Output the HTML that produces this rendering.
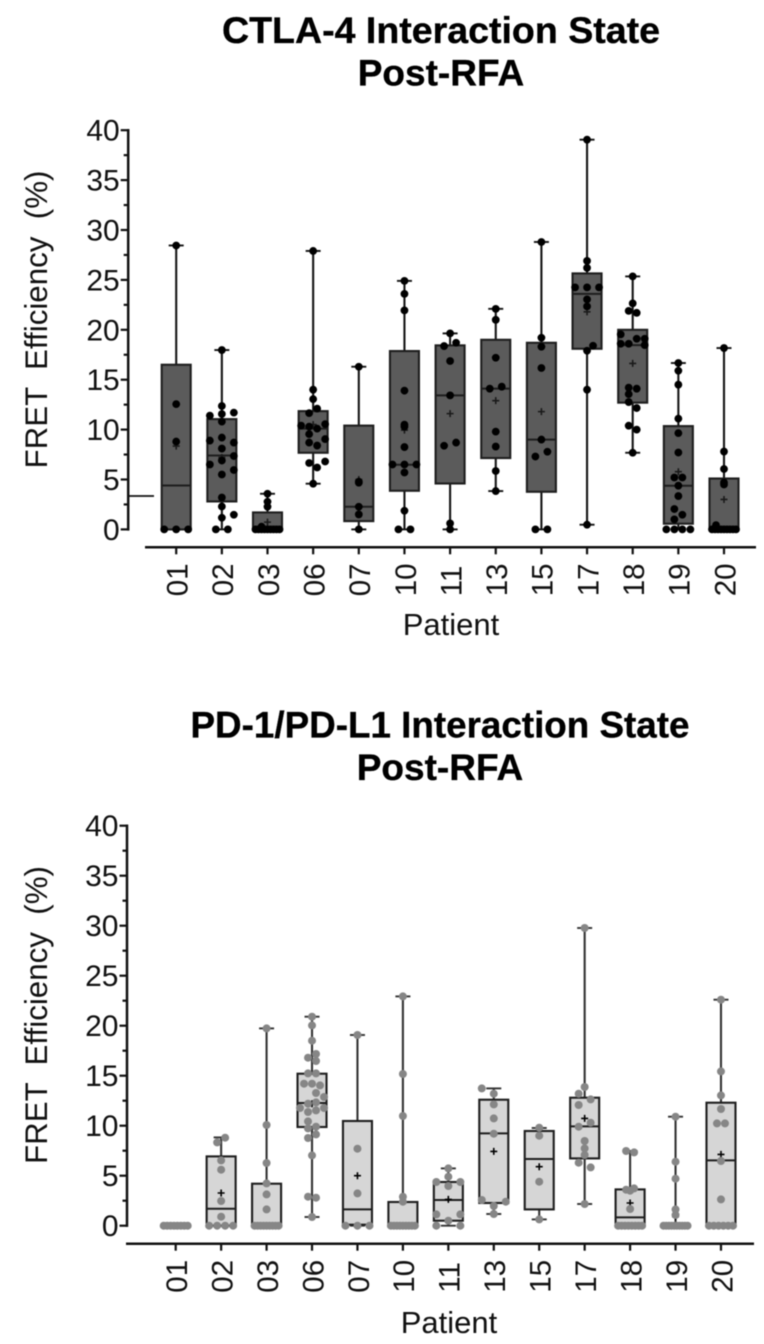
<!DOCTYPE html>
<html lang="en">
<head>
<meta charset="utf-8">
<title>FRET Efficiency Post-RFA</title>
<style>
  html, body { margin: 0; padding: 0; background: #fff; }
  svg { display: block; filter: blur(0.4px); font-family: "Liberation Sans", Arial, sans-serif; }
</style>
</head>
<body>
<svg id="figure" xmlns="http://www.w3.org/2000/svg" width="764" height="1344" viewBox="0 0 764 1344">
  <rect width="764" height="1344" fill="#fff"/>
  <g id="chart-top">
    <text x="441" y="43" font-size="37" font-weight="700" text-anchor="middle" textLength="438" lengthAdjust="spacingAndGlyphs" stroke="#000" stroke-width="0.35">CTLA-4 Interaction State</text>
    <text x="441" y="85.5" font-size="37" font-weight="700" text-anchor="middle" stroke="#000" stroke-width="0.35">Post-RFA</text>
    <text transform="translate(47 319.5) rotate(-90)" font-size="31.3" text-anchor="middle" xml:space="preserve" fill="#111">FRET  Efficiency  (%)</text>
    <text x="451" y="635" font-size="31" text-anchor="middle" fill="#111">Patient</text>
    <line x1="128" x2="154" y1="496" y2="496" stroke="#111" stroke-width="1.8"/>
  </g>
  <g id="chart-bottom">
    <text x="440" y="737.5" font-size="37" font-weight="700" text-anchor="middle" textLength="499" lengthAdjust="spacingAndGlyphs" stroke="#000" stroke-width="0.35">PD-1/PD-L1 Interaction State</text>
    <text x="440" y="780" font-size="37" font-weight="700" text-anchor="middle" stroke="#000" stroke-width="0.35">Post-RFA</text>
    <text transform="translate(47 1015) rotate(-90)" font-size="31.3" text-anchor="middle" xml:space="preserve" fill="#111">FRET  Efficiency  (%)</text>
    <text x="449" y="1333" font-size="31" text-anchor="middle" fill="#111">Patient</text>
  </g>
</svg>
<script>
// Shared categories and axis ticks
const patients = ["01","02","03","06","07","10","11","13","15","17","18","19","20"];
const yTickLabels = [0,5,10,15,20,25,30,35,40];
const yMinorTicks = [2.5,7.5,12.5,17.5,22.5,27.5,32.5,37.5];

// CTLA-4 box statistics (FRET %)
const ctlaWhiskerLow  = [0,0,0,4.58,0,0,0,3.84,0,0.47,7.68,0,0];
const ctlaQ1          = [0,2.8,0,7.68,0.83,3.87,4.6,7.15,3.77,18.1,12.7,0.57,0];
const ctlaMedian      = [4.4,7.4,0.2,10.1,2.27,6.48,13.43,14.1,9.0,23.6,18.47,4.38,0];
const ctlaQ3          = [16.5,11.05,1.7,11.85,10.4,17.87,18.44,19.0,18.7,25.65,20.0,10.35,5.1];
const ctlaWhiskerHigh = [28.45,17.97,3.57,27.9,16.3,24.9,19.64,22.1,28.8,39.05,25.35,16.67,18.17];
const ctlaMean        = [8.35,7.2,0.73,10.5,5.0,9.95,11.6,12.9,11.8,21.8,16.63,5.78,3.0];
// CTLA-4 measurements, grouped per patient into swarm rows (null = empty place in a row)
const ctlaPoints = [
  [[28.45],[12.55],[8.8],[0,0,0]],
  [[17.97],[12.36],[11.4,11.56,11.7],[10.8],[8.9,9.2,8.7],[8.1],[6.5,6.9,7.35],[null,5.5,5.95],[3.2],[2.3],[null,1.17,1.47],[0,0]],
  [[3.57],[2.77],[2.27],[null,0.27,null,null,null],[0,0,0,0,0,0,0,0,0]],
  [[27.9],[14.0],[13.05],[null,11.65,12.1,null],[10.4,10.3,10.1,10.55],[null,9.55,null,null],[null,8.7,8.4,9.05],[null,6.65,6.2,6.8],[4.58]],
  [[16.3],[4.78],[4.68],[2.27],[1.5],[0]],
  [[24.9],[23.6],[21.95],[13.9],[10.5],[10.3],[8.25],[6.5,6.5,6.5],[5.7],[1.87],[0,0]],
  [[19.64],[18.37,18.7],[16.87],[13.43],[8.38,8.7],[0.6],[0]],
  [[22.1],[21.0],[17.2],[14.1,14.3],[9.8],[8.3],[5.85],[3.84]],
  [[28.8],[19.2],[18.3],[16.17],[9.0],[7.3,7.78],[0,0]],
  [[39.05],[26.9],[26.2],[24.25,24.25,24.25],[23.05],[22.35],[null,18.4],[17.9],[14.0],[0.47]],
  [[25.35],[22.65],[null,21.9,21.7,null],[19.54,null,19.1,19.1],[18.6,18.6,null,18.47],[null,14.2,14.1,null],[null,13.56,null,null],[null,12.76,null,null],[null,null,12.16,null],[null,10.39,10.0,null],[7.68]],
  [[16.67],[15.9],[14.5],[11.1],[9.65],[7.7],[null,5.2,5.2,null],[4.38],[3.34],[null,2.04,null,null],[null,null,1.47,null],[null,1.0,null,null],[0,0,0,0]],
  [[18.17],[7.8],[6.05],[4.7],[4.5],[null,0.43,null,null,null,null,null],[0,0,0,0,0,0,0,0,0]]
];

// PD-1/PD-L1 box statistics (FRET %)
const pdWhiskerLow  = [0,0,0,0.87,0,0,0,1.17,0.63,2.17,0,0,0];
const pdQ1          = [0,0,0,9.87,0.1,0,0.5,2.27,1.63,6.73,0.2,0,0];
const pdMedian      = [0,1.7,0,12.27,1.63,0,2.57,9.23,6.67,9.93,0.83,0,6.53];
const pdQ3          = [0,6.93,4.2,15.2,10.47,2.37,4.37,12.6,9.47,12.8,3.63,0,12.3];
const pdWhiskerHigh = [0,8.83,19.73,20.9,19.07,22.93,5.73,13.73,9.77,29.77,7.47,10.9,22.6];
const pdMean        = [0,3.27,1.63,12.2,5.0,2.4,2.63,7.43,5.9,10.73,2.27,0.9,7.13];
// PD-1/PD-L1 measurements, grouped per patient into swarm rows (null = empty place in a row)
const pdPoints = [
  [[0,0,0,0,0,0,0,0]],
  [[null,8.33,8.8,null],[6.53],[5.6],[2.47],[0.9],[0,0,0,0]],
  [[19.73],[10.07],[6.27],[4.23],[3.13],[1.63],[0,0,0,0,0,0,0,0,0]],
  [[20.9],[20.03],[18.5],[null,null,17.17,null],[null,16.8,null,null],[null,null,16.47,null],[null,15.23,15.23,null],[null,14.2,null,14.2,null,14.03,null],[null,null,13.27,null],[null,null,null,12.87],[null,12.2,12.33,null],[11.77,null,null,11.77],[null,11.37,11.53,null],[null,10.43,null,null],[null,9.73,9.9,null],[null,null,9.13,null],[null,8.77,null,null],[7.03],[null,2.9,2.8,null],[0.87]],
  [[19.07],[7.7],[3.23],[0,0,0]],
  [[22.93],[15.17],[10.97],[2.9],[2.4],[0,0,0,0,0,0,0,0,0]],
  [[5.73],[4.9],[4.37,null,4.37],[3.97],[1.13,null,1.13],[0.5],[0,null,0]],
  [[13.73,null,null],[13.2],[12.13],[10.73],[9.2],[2.57,null,2.4],[1.97],[1.17]],
  [[9.8],[9.0],[4.4],[0.63]],
  [[29.77],[13.87],[13.2,12.63],[12.07,null],[null,10.3],[9.9,null],[8.47],[7.73],[7.07],[6.3,5.83],[2.17]],
  [[null,7.47,7.33,null],[null,null,3.6,3.5,3.73,null,null],[1.67],[0,0,0,0,0,0,0,0]],
  [[10.9],[6.4],[4.7],[1.63],[1.07],[0,0,0,0,0,0,0,0,0,0]],
  [[22.6],[15.43],[13.03],[11.67],[null,10.23,10.23,null],[6.47],[2.63],[0,0,0,0,0,0]]
];

const SVG_NS = "http://www.w3.org/2000/svg";

function makeEl(tag, attrs, parent) {
  const node = document.createElementNS(SVG_NS, tag);
  for (const key in attrs) node.setAttribute(key, attrs[key]);
  parent.appendChild(node);
  return node;
}

function drawChart(cfg) {
  const root = document.getElementById(cfg.rootId);
  const xScale = function (i) { return cfg.xStart + cfg.xStep * i; };
  const yScale = function (v) { return cfg.yZero - cfg.yUnit * v; };

  // Y axis
  const yTop = yScale(40);
  const yAxis = makeEl("line", {x1: cfg.axisX, x2: cfg.axisX, y1: yTop - 1.2, y2: yScale(0) + 1.2, stroke: "#111", "stroke-width": 2.5}, root);
  
  
  yTickLabels.forEach(function (t) {
    const tick = makeEl("line", {x1: cfg.axisX - 7.5, x2: cfg.axisX, y1: yScale(t), y2: yScale(t), stroke: "#111", "stroke-width": 2.2}, root);
    
    
    const label = makeEl("text", {x: cfg.axisX - 8.5, y: yScale(t) + 10.5, "font-size": 30, "text-anchor": "end", fill: "#111"}, root);
    label.textContent = t;
    
    
  });
  yMinorTicks.forEach(function (t) {
    const tick = makeEl("line", {x1: cfg.axisX - 4.5, x2: cfg.axisX, y1: yScale(t), y2: yScale(t), stroke: "#111", "stroke-width": 2.2}, root);
    
    
  });

  // X axis
  const xAxis = makeEl("line", {x1: cfg.xAxisFrom, x2: cfg.xAxisTo, y1: cfg.xAxisY, y2: cfg.xAxisY, stroke: "#111", "stroke-width": 2.5}, root);
  
  

  patients.forEach(function (name, i) {
    const cx = xScale(i);

    const tick = makeEl("line", {x1: cx, x2: cx, y1: cfg.xAxisY, y2: cfg.xAxisY + 7, stroke: "#111", "stroke-width": 2.2}, root);
    
    
    const label = makeEl("text", {transform: "translate(" + (cx + 11.3) + " " + (cfg.xAxisY + 49) + ") rotate(-90)", "font-size": 29.5, fill: "#111"}, root);
    label.textContent = name;
    
    

    const group = makeEl("g", {}, root);
    
    

    // Whisker and caps
    const whisker = makeEl("line", {x1: cx, x2: cx, y1: yScale(cfg.high[i]), y2: yScale(cfg.low[i]), stroke: cfg.whiskerColor, "stroke-width": 2.1}, group);
    
    
    [cfg.high[i], cfg.low[i]].forEach(function (v) {
      const cap = makeEl("line", {x1: cx - 7.5, x2: cx + 7.5, y1: yScale(v), y2: yScale(v), stroke: cfg.whiskerColor, "stroke-width": 1.9}, group);
      
      
    });

    // Box
    const box = makeEl("rect", {x: cx - 14.5, width: 29, y: yScale(cfg.q3[i]), height: Math.max(0, yScale(cfg.q1[i]) - yScale(cfg.q3[i])), fill: cfg.boxFill, stroke: cfg.boxStroke, "stroke-width": 2.1}, group);
    
    
    const median = makeEl("line", {x1: cx - 14.5, x2: cx + 14.5, y1: yScale(cfg.median[i]), y2: yScale(cfg.median[i]), stroke: cfg.boxStroke, "stroke-width": 2}, group);
    
    

    // Mean marker
    const my = yScale(cfg.mean[i]);
    const mean = makeEl("path", {d: "M" + (cx - 3.5) + " " + my + "H" + (cx + 3.5) + "M" + cx + " " + (my - 3.5) + "V" + (my + 3.5), stroke: cfg.meanColor, "stroke-width": 1.6, fill: "none"}, group);
    
    

    // Points: each row is spread symmetrically around the category centre
    cfg.points[i].forEach(function (row) {
      const n = row.length;
      const step = n > 1 ? Math.min(12, 24 / (n - 1)) : 0;
      row.forEach(function (v, slot) {
        if (v === null) return;
        const dot = makeEl("circle", {cx: cx + (slot - (n - 1) / 2) * step, cy: yScale(v), r: cfg.dotRadius, fill: cfg.dotColor}, group);
        
        
      });
    });
  });
}

drawChart({
  rootId: "chart-top", prefix: "ctla4",
  xStart: 176.2, xStep: 45.65, yZero: 529.4, yUnit: 9.98,
  axisX: 128.2, xAxisY: 547.3, xAxisFrom: 145, xAxisTo: 756,
  low: ctlaWhiskerLow, q1: ctlaQ1, median: ctlaMedian, q3: ctlaQ3, high: ctlaWhiskerHigh, mean: ctlaMean, points: ctlaPoints,
  boxFill: "#5b5b5b", boxStroke: "#1e1e1e", whiskerColor: "#141414", dotColor: "#000", meanColor: "#1a1a1a", dotRadius: 3.9
});

drawChart({
  rootId: "chart-bottom", prefix: "pd1",
  xStart: 175.7, xStep: 45.44, yZero: 1225.7, yUnit: 10,
  axisX: 127, xAxisY: 1243.7, xAxisFrom: 126, xAxisTo: 754,
  low: pdWhiskerLow, q1: pdQ1, median: pdMedian, q3: pdQ3, high: pdWhiskerHigh, mean: pdMean, points: pdPoints,
  boxFill: "#d6d6d6", boxStroke: "#1e1e1e", whiskerColor: "#333", dotColor: "#868686", meanColor: "#000", dotRadius: 4
});
</script>
</body>
</html>
